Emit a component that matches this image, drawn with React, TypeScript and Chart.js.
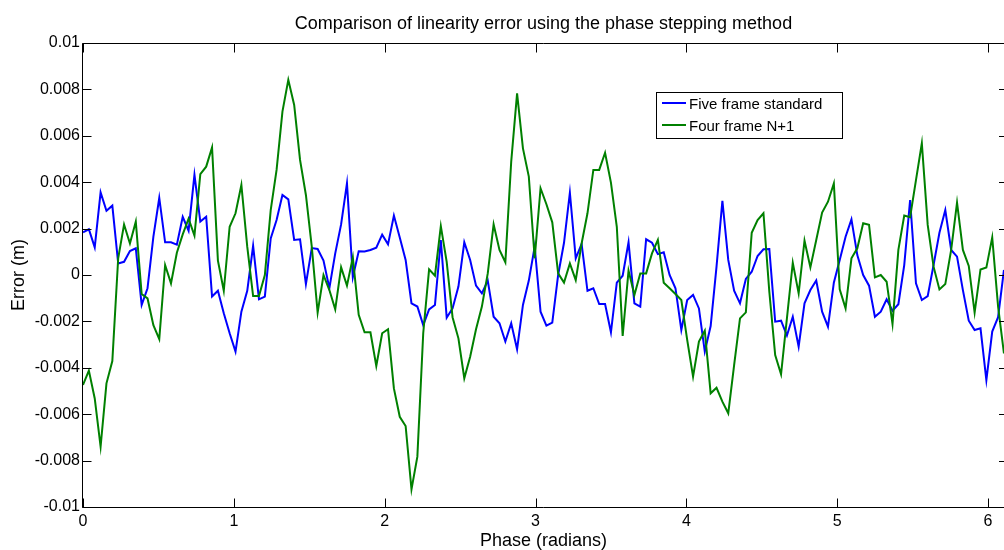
import React, { useEffect, useRef } from "react";
import { Chart, registerables } from "chart.js";

Chart.register(...registerables);

// Phase sample spacing (radians)
const STEP = 0.03889;
const X_MAX = 6.106;

// Error values in units of 1e-3 m
const FIVE_FRAME = [
  1.84, 1.97, 1.19, 3.56, 2.77, 2.99, 0.5, 0.57, 1.03, 1.15,
  -1.29, -0.57, 1.65, 3.32, 1.41, 1.41, 1.31, 2.51, 1.91, 4.32,
  2.3, 2.51, -0.93, -0.68, -1.65, -2.51, -3.3, -1.58, -0.68, 1.26,
  -1.05, -0.93, 1.58, 2.37, 3.45, 3.26, 1.51, 1.54, -0.39, 1.16,
  1.12, 0.62, -0.57, 0.93, 2.18, 3.95, -0.1, 1.02, 1.01, 1.08,
  1.18, 1.74, 1.32, 2.56, 1.62, 0.65, -1.22, -1.36, -2.16, -1.48,
  -1.29, 1.51, -1.84, -1.44, -0.5, 1.41, 0.65, -0.46, -0.79, -0.24,
  -1.8, -2.08, -2.87, -2.08, -3.2, -1.29, -0.24, 1.22, -1.58, -2.18,
  -2.05, 0.0, 1.39, 3.55, 0.72, 1.34, -0.68, -0.57, -1.25, -1.25,
  -2.47, -0.33, -0.03, 1.41, -1.22, -1.36, 1.54, 1.39, 0.9, 0.98,
  0.0, -0.57, -2.37, -1.08, -0.86, -1.44, -3.3, -2.2, 0.36, 3.2,
  0.65, -0.68, -1.22, -0.17, 0.14, 0.82, 1.11, 1.12, -2.01, -1.97,
  -2.61, -1.8, -3.09, -1.22, -0.65, -0.24, -1.58, -2.23, -0.33, 0.65,
  1.65, 2.4, 0.86, 0.0, -0.46, -1.8, -1.58, -1.05, -1.54, -1.26,
  0.43, 3.23, -0.36, -1.08, -0.91, 0.43, 1.82, 2.8, 1.08, 0.79,
  -0.65, -1.97, -2.37, -2.3, -4.53, -2.44, -1.82, 0.22,
];

const FOUR_FRAME = [
  -4.74, -4.12, -5.32, -7.4, -4.67, -3.71, 0.72, 2.18, 1.36, 2.3,
  -0.82, -1.01, -2.16, -2.76, 0.43, -0.36, 0.96, 1.75, 2.43, 1.7,
  4.35, 4.67, 5.5, 0.62, -0.68, 2.08, 2.66, 3.88, 1.22, -0.91,
  -0.91, 0.0, 2.8, 4.53, 7.04, 8.41, 7.33, 4.96, 3.45, 1.22,
  -1.62, 0.0, -0.65, -1.48, 0.33, -0.46, 0.76, -1.72, -2.47, -2.47,
  -3.92, -2.51, -2.34, -4.89, -6.11, -6.51, -9.24, -7.83, -2.51, 0.24,
  -0.03, 2.11, 0.57, -1.82, -2.73, -4.45, -3.52, -2.34, -1.36, 0.07,
  2.18, 1.08, 0.55, 4.89, 7.83, 5.46, 4.24, 0.72, 3.74, 3.05,
  2.27, 0.07, -0.33, 0.5, -0.22, 1.36, 2.66, 4.53, 4.53, 5.27,
  3.98, 2.08, -2.63, 0.19, -0.86, 0.07, 0.07, 0.93, 1.51, -0.33,
  -0.57, -0.82, -1.08, -2.8, -4.38, -2.87, -2.4, -5.1, -4.86, -5.46,
  -5.96, -3.88, -1.87, -1.61, 1.82, 2.37, 2.66, -0.72, -3.45, -4.28,
  -1.87, 0.53, -0.79, 1.48, 0.33, 1.51, 2.69, 3.16, 3.95, -0.62,
  -1.44, 0.72, 1.15, 2.23, 2.16, -0.1, 0.0, -0.29, -2.11, 1.08,
  2.56, 2.49, 4.09, 5.68, 2.16, 0.36, -0.62, -0.39, 1.08, 3.12,
  1.08, 0.39, -1.62, 0.24, 0.32, 1.62, -1.36, -3.38,
];

const X_TICKS = [0, 1, 2, 3, 4, 5, 6];
const Y_TICKS = [-0.01, -0.008, -0.006, -0.004, -0.002, 0, 0.002, 0.004, 0.006, 0.008, 0.01];

const TITLE = "Comparison of linearity error using the phase stepping method";
const X_LABEL = "Phase (radians)";
const Y_LABEL = "Error (m)";
const SERIES_NAMES = ["Five frame standard", "Four frame N+1"];
const SERIES_COLORS = ["#0000ff", "#008000"];

const FONT = "'Liberation Sans', Arial, Helvetica, sans-serif";

const toPoints = (vals: number[]) => vals.map((v, i) => ({ x: i * STEP, y: v / 1000 }));

const decorPlugin = {
  id: "decor",
  afterDraw(chart: any) {
    const { ctx, chartArea: a, scales } = chart;
    ctx.save();
    ctx.strokeStyle = "#000";
    ctx.lineWidth = 1;
    const L = Math.round(a.left) - 0.5;
    const R = chart.width;
    const T = Math.round(a.top) + 0.5;
    const B = Math.round(a.bottom) + 0.5;
    // box: left, top, bottom (right edge lies just outside the picture)
    ctx.beginPath();
    ctx.moveTo(R, T);
    ctx.lineTo(L, T);
    ctx.lineTo(L, B);
    ctx.lineTo(R, B);
    ctx.stroke();
    const TL = 9;
    ctx.beginPath();
    for (const v of X_TICKS) {
      const px = Math.round(scales.x.getPixelForValue(v)) + 0.5;
      ctx.moveTo(px, B);
      ctx.lineTo(px, B - TL);
      ctx.moveTo(px, T);
      ctx.lineTo(px, T + TL);
    }
    for (const v of Y_TICKS) {
      const py = Math.round(scales.y.getPixelForValue(v)) + 0.5;
      ctx.moveTo(L, py);
      ctx.lineTo(L + TL, py);
      ctx.moveTo(R, py);
      ctx.lineTo(R - 5, py);
    }
    ctx.stroke();

    // Title and axis titles
    ctx.fillStyle = "#000";
    const cx = (a.left + a.right) / 2;
    ctx.font = `18px ${FONT}`;
    ctx.textAlign = "center";
    ctx.textBaseline = "alphabetic";
    ctx.fillText(TITLE, cx, 29);
    ctx.fillText(X_LABEL, cx, 546);
    ctx.save();
    ctx.translate(24, (a.top + a.bottom) / 2);
    ctx.rotate(-Math.PI / 2);
    ctx.fillText(Y_LABEL, 0, 0);
    ctx.restore();

    // Legend
    const lx = 656, ly = 92, lw = 186, lh = 46;
    ctx.fillStyle = "#fff";
    ctx.fillRect(lx, ly, lw, lh);
    ctx.strokeStyle = "#000";
    ctx.lineWidth = 1;
    ctx.strokeRect(lx + 0.5, ly + 0.5, lw, lh);
    ctx.font = `15px ${FONT}`;
    ctx.textAlign = "left";
    const rows = [103, 125];
    SERIES_NAMES.forEach((name, i) => {
      ctx.strokeStyle = SERIES_COLORS[i];
      ctx.lineWidth = 2;
      ctx.beginPath();
      ctx.moveTo(662, rows[i]);
      ctx.lineTo(686, rows[i]);
      ctx.stroke();
      ctx.fillStyle = "#000";
      ctx.fillText(name, 689, rows[i] + 5.5);
    });
    ctx.restore();
  },
};

export default function App() {
  const ref = useRef<HTMLCanvasElement | null>(null);
  useEffect(() => {
    if (!ref.current) return;
    const chart = new Chart(ref.current, {
      type: "line",
      data: {
        datasets: [
          {
            label: SERIES_NAMES[0],
            data: toPoints(FIVE_FRAME),
            borderColor: SERIES_COLORS[0],
            backgroundColor: SERIES_COLORS[0],
            borderWidth: 2,
            pointRadius: 0,
            tension: 0,
            order: 1,
          },
          {
            label: SERIES_NAMES[1],
            data: toPoints(FOUR_FRAME),
            borderColor: SERIES_COLORS[1],
            backgroundColor: SERIES_COLORS[1],
            borderWidth: 2,
            pointRadius: 0,
            tension: 0,
            order: 0,
          },
        ],
      },
      options: {
        animation: false,
        responsive: false,
        events: [],
        layout: { padding: { top: 43, left: 0, right: 0, bottom: 0 } },
        plugins: { legend: { display: false }, title: { display: false }, tooltip: { enabled: false } },
        scales: {
          x: {
            type: "linear",
            min: 0,
            max: X_MAX,
            grid: { display: false, drawTicks: false },
            border: { display: false },
            afterBuildTicks: (s: any) => {
              s.ticks = X_TICKS.map((v) => ({ value: v }));
            },
            afterFit: (s: any) => {
              s.height = 43;
            },
            ticks: {
              autoSkip: false,
              maxRotation: 0,
              padding: 5,
              color: "#000",
              font: { family: FONT, size: 16 },
              callback: (v: any) => String(v),
            },
          },
          y: {
            type: "linear",
            min: -0.01,
            max: 0.01,
            grid: { display: false, drawTicks: false },
            border: { display: false },
            afterBuildTicks: (s: any) => {
              s.ticks = Y_TICKS.map((v) => ({ value: v }));
            },
            afterFit: (s: any) => {
              s.width = 83;
            },
            ticks: {
              autoSkip: false,
              padding: 3,
              color: "#000",
              font: { family: FONT, size: 16 },
              callback: (v: any) => String(v),
            },
          },
        },
      },
      plugins: [decorPlugin],
    });
    return () => chart.destroy();
  }, []);
  return (
    <div style={{ position: "fixed", left: 0, top: 0, width: 1004, height: 550, background: "#fff" }}>
      <canvas ref={ref} width={1004} height={550} />
    </div>
  );
}
